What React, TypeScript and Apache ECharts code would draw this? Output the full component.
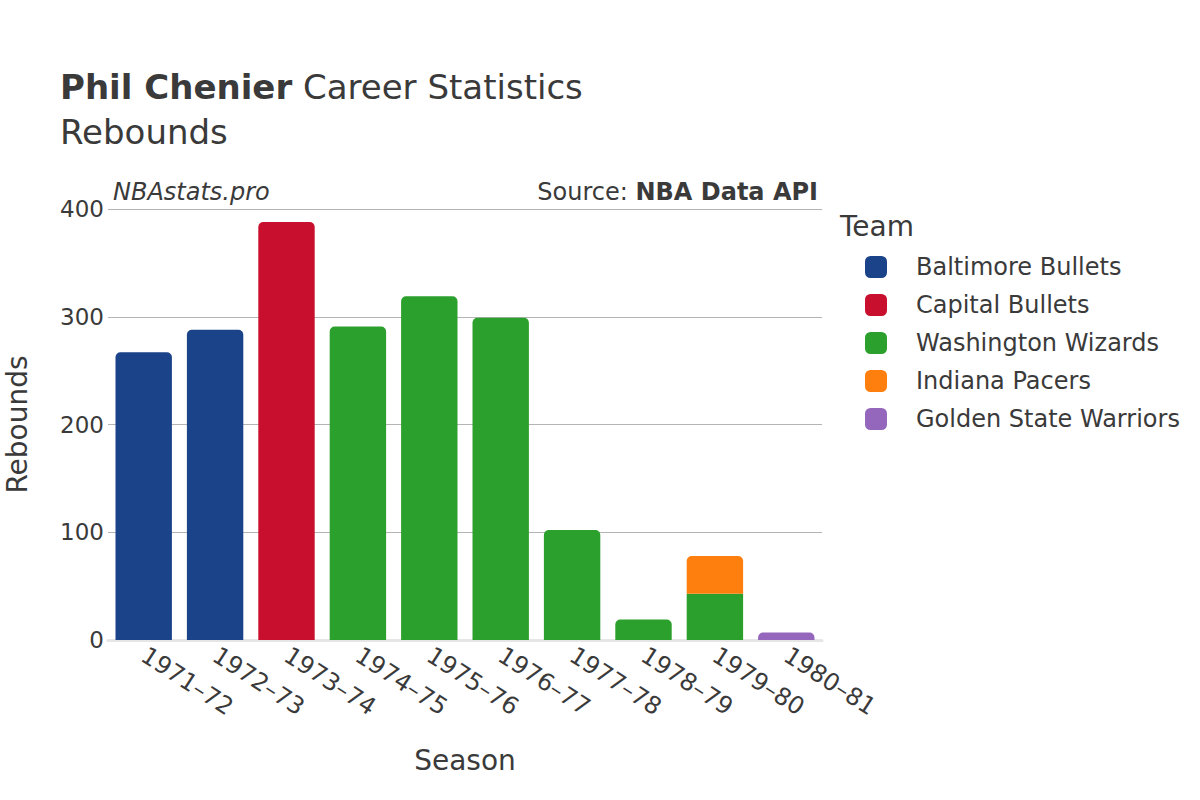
import React, { useEffect, useRef } from "react";
import * as echarts from "echarts";

const seasons = ["1971–72", "1972–73", "1973–74", "1974–75", "1975–76", "1976–77", "1977–78", "1978–79", "1979–80", "1980–81"];
const teams = ["Baltimore Bullets", "Capital Bullets", "Washington Wizards", "Indiana Pacers", "Golden State Warriors"];
const teamColors = ["#1b4389", "#c8102e", "#2ca02c", "#ff7f0e", "#9467bd"];
const baltimore = [267, 288, null, null, null, null, null, null, null, null];
const capital = [null, null, 388, null, null, null, null, null, null, null];
const washington = [null, null, null, 291, 319, 299, 102, 19, 43, null];
const indiana = [null, null, null, null, null, null, null, null, 35, null];
const goldenState = [null, null, null, null, null, null, null, null, null, 7];
const yTicks = [0, 100, 200, 300, 400];

const FONT = "DejaVu Sans";
const TXT = "#3a3a3a";

export default function App() {
  const ref = useRef<HTMLDivElement>(null);
  useEffect(() => {
    if (!ref.current) return;
    const chart = echarts.init(ref.current, null, { renderer: "svg" });
    const seriesData = [baltimore, capital, washington, indiana, goldenState];
    const series = teams.map((name, si) => ({
      name,
      type: "bar",
      stack: "total",
      barCategoryGap: "21%",
      itemStyle: { color: teamColors[si], borderRadius: [5, 5, 0, 0] },
      data: seriesData[si].map((v, ci) => {
        if (v === null) return "-";
        const hasAbove = seriesData.slice(si + 1).some((arr) => arr[ci] !== null);
        if (hasAbove) return { value: v, itemStyle: { borderRadius: 0 } };
        return v;
      }),
    }));
    chart.setOption({
      animation: false,
      textStyle: { fontFamily: FONT },
      title: {
        text: "{b|Phil Chenier} Career Statistics\nRebounds",
        left: 60,
        top: 64,
        padding: 0,
        textStyle: {
          fontFamily: FONT,
          fontSize: 34,
          color: TXT,
          fontWeight: "normal",
          lineHeight: 45,
          rich: {
            b: { fontFamily: FONT, fontSize: 34, fontWeight: "bold", color: TXT, lineHeight: 45 },
          },
        },
      },
      legend: {
        orient: "vertical",
        left: 865,
        top: 255,
        padding: 0,
        itemWidth: 22,
        itemHeight: 22,
        itemGap: 14,
        icon: "roundRect",
        data: teams,
        textStyle: { fontFamily: FONT, fontSize: 24, color: TXT, padding: [0, 0, 0, 24] },
      },
      graphic: [
        { type: "text", left: 840, top: 212, style: { text: "Team", font: `28px '${FONT}'`, fill: TXT } },
        { type: "text", left: 113, top: 180, style: { text: "NBAstats.pro", font: `italic 24px '${FONT}'`, fill: TXT } },
        {
          type: "text",
          right: 382,
          top: 180,
          style: {
            text: "{n|Source: }{b|NBA Data API}",
            font: `24px '${FONT}'`,
            fill: TXT,
            rich: {
              n: { fontFamily: FONT, fontSize: 24, fill: TXT },
              b: { fontFamily: FONT, fontSize: 24, fontWeight: "bold", fill: TXT },
            },
          },
        },
      ],
      grid: { left: 108, right: 378, top: 209, bottom: 160, containLabel: false, outerBoundsMode: "none" },
      xAxis: {
        type: "category",
        data: seasons,
        name: "Season",
        nameLocation: "middle",
        nameGap: 106,
        nameTextStyle: { fontFamily: FONT, fontSize: 28, color: TXT },
        axisLine: { show: true, lineStyle: { color: "#e6e6e6", width: 3 } },
        axisTick: { show: false },
        axisLabel: { rotate: -33, fontFamily: FONT, fontSize: 24, color: TXT, margin: 13 },
      },
      yAxis: {
        type: "value",
        min: yTicks[0],
        max: yTicks[yTicks.length - 1],
        interval: 100,
        name: "Rebounds",
        nameLocation: "middle",
        nameGap: 77,
        nameTextStyle: { fontFamily: FONT, fontSize: 28, color: TXT },
        axisLine: { show: false },
        axisTick: { show: false },
        splitLine: { lineStyle: { color: "#b4b4b4", width: 1 } },
        axisLabel: { fontFamily: FONT, fontSize: 23, color: TXT, margin: 4 },
      },
      series,
    });
    return () => chart.dispose();
  }, []);
  return <div ref={ref} style={{ position: "absolute", left: 0, top: 0, width: 1200, height: 800 }} />;
}
